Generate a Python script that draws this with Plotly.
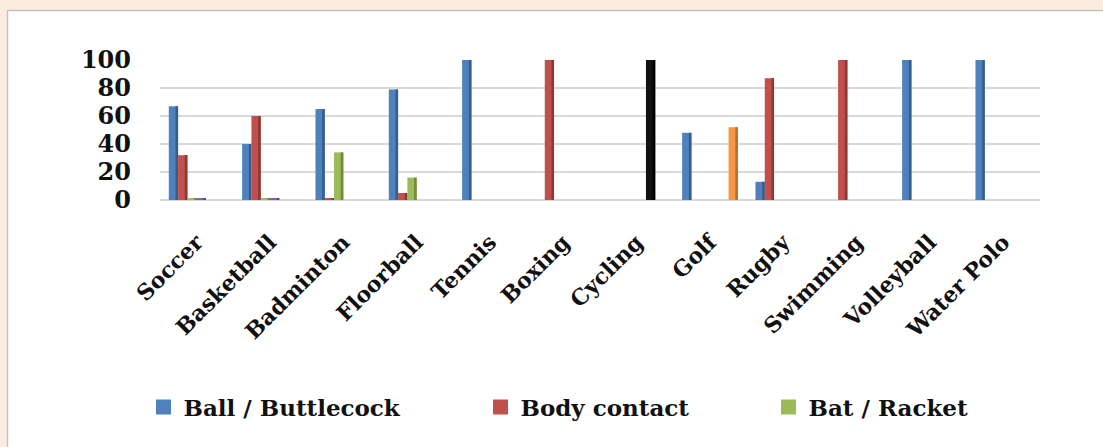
import plotly.graph_objects as go

# Sports and the share (%) of each equipment / contact type
categories = ["Soccer", "Basketball", "Badminton", "Floorball", "Tennis", "Boxing",
              "Cycling", "Golf", "Rugby", "Swimming", "Volleyball", "Water Polo"]
ball = [67, 40, 65, 79, 100, 0, 0, 48, 13, 0, 100, 100]
body_contact = [32, 60, 1, 5, 0, 100, 0, 0, 87, 100, 0, 0]
bat_racket = [1, 1, 34, 16, 0, 0, 0, 0, 0, 0, 0, 0]
other = [1, 1, 0, 0, 0, 0, 0, 0, 0, 0, 0, 0]
bicycle = [0, 0, 0, 0, 0, 0, 100, 0, 0, 0, 0, 0]
club = [0, 0, 0, 0, 0, 0, 0, 52, 0, 0, 0, 0]

series = [
    ("Ball / Buttlecock", ball, "#4F81BD", "#385D8A", "legend"),
    ("Body contact", body_contact, "#C0504D", "#8C3836", "legend2"),
    ("Bat / Racket", bat_racket, "#9BBB59", "#71893F", "legend3"),
    ("Other", other, "#8064A2", "#5C4776", None),
    ("Bicycle", bicycle, "#111111", "#000000", None),
    ("Club", club, "#F79646", "#B66D31", None),
]

n = len(series)
group = 0.76
w = group / n
side = 0.035

fig = go.Figure()
for k, (name, vals, color, dark, leg) in enumerate(series):
    off = -group / 2 + k * w
    fig.add_trace(go.Bar(
        x=categories, y=vals, name=name, width=w, offset=off,
        marker=dict(color=color, line=dict(width=0)),
        showlegend=False, hoverinfo="x+y+name",
    ))
    # darker right-hand face
    fig.add_trace(go.Bar(
        x=categories, y=vals, width=side, offset=off + w - side,
        marker=dict(color=dark, line=dict(width=0)),
        showlegend=False, hoverinfo="skip",
    ))
    if leg is not None:
        # square swatch for the legend entry
        fig.add_trace(go.Scatter(
            x=[None], y=[None], mode="markers", name=name, legend=leg,
            marker=dict(symbol="square", size=15, color=color),
        ))

L, R, T, B = 160, 63, 60, 247
W, H = 1103, 447
pw, ph = W - L - R, H - T - B


def px_x(p):
    return (p - L) / pw


def px_y(p):
    return (H - B - p) / ph


fig.add_shape(type="rect", xref="paper", yref="paper",
              x0=px_x(7.5), x1=px_x(1120), y0=px_y(10.5), y1=px_y(460),
              fillcolor="white", line=dict(color="#C9C2BC", width=1.5), layer="below")

legend_font = dict(family="DejaVu Serif", size=23, color="#111111", weight="bold")
common = dict(orientation="h", yanchor="middle", xanchor="left", font=legend_font,
              bgcolor="rgba(0,0,0,0)", itemwidth=30)
fig.update_layout(
    width=W, height=H,
    margin=dict(l=L, r=R, t=T, b=B, pad=0),
    paper_bgcolor="#FBECE1",
    plot_bgcolor="rgba(0,0,0,0)",
    barmode="overlay",
    legend=dict(x=px_x(164.5 - 21), y=px_y(407), **common),
    legend2=dict(x=px_x(501.5 - 21), y=px_y(407), **common),
    legend3=dict(x=px_x(789.5 - 21), y=px_y(407), **common),
    xaxis=dict(
        type="category", tickangle=-45, showgrid=False, showline=False, ticks="",
        tickfont=dict(family="DejaVu Serif", size=22, color="#111111", weight="bold"),
        ticklabelstandoff=24,
        range=[-0.5, len(categories) - 0.5],
    ),
    yaxis=dict(
        range=[0, 100], tickvals=[0, 20, 40, 60, 80, 100],
        showgrid=True, gridcolor="#D9D9D9", gridwidth=2,
        zeroline=True, zerolinecolor="#D9D9D9", zerolinewidth=2,
        showline=False, ticks="", ticklabelstandoff=28,
        tickfont=dict(family="DejaVu Serif", size=24, color="#111111", weight="bold"),
    ),
)

fig.write_html("out.html")
